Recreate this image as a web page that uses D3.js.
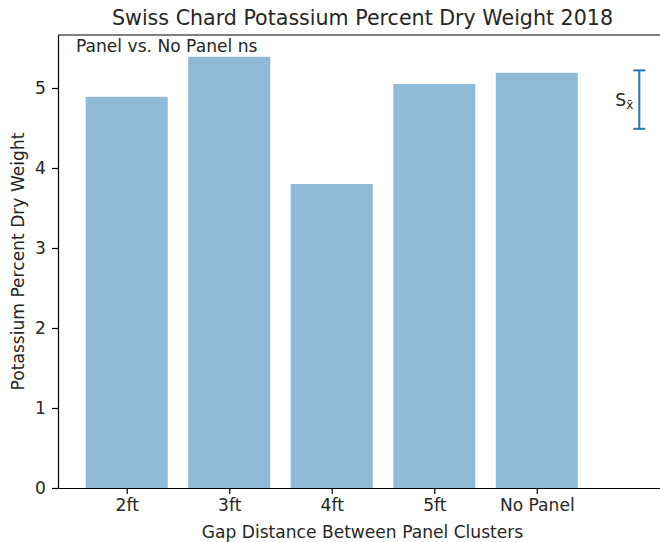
<!DOCTYPE html>
<html><head><meta charset="utf-8">
<script src="https://cdn.jsdelivr.net/npm/d3@7"></script>
<style>body{margin:0;background:#fff}svg{display:block}text{font-family:"DejaVu Sans",sans-serif;fill:#262626}</style>
</head><body><svg id="c" width="660" height="542"></svg>
<script>
const categories = ["2ft","3ft","4ft","5ft","No Panel"];
const values = [4.89, 5.39, 3.80, 5.05, 5.19];
const yTicks = [0,1,2,3,4,5];
const errCenter = [4.855];
const errHalf = [0.365];
const title = "Swiss Chard Potassium Percent Dry Weight 2018";
const note = "Panel vs. No Panel ns";

const FS = 17.1;
const svg = d3.select("#c");
const L = 58, R = 667, T = 35, B = 488;
const x = d3.scaleLinear().domain([-0.67, 5.27]).range([L, R]);
const y = d3.scaleLinear().domain([0, 5.6625]).range([B, T]);
const bw = x(0.8) - x(0);

svg.append("g").selectAll("rect").data(values).join("rect")
  .attr("x", (d,i)=>x(i-0.4)).attr("width", bw)
  .attr("y", d=>y(d)).attr("height", d=>B-y(d))
  .attr("fill", "#1f77b4").attr("fill-opacity", 0.5);

// error bar
const ex = x(5);
const eg = svg.append("g").attr("stroke","#1f77b4").attr("stroke-width",2);
eg.append("line").attr("x1",ex).attr("x2",ex).attr("y1",y(errCenter[0]+errHalf[0])).attr("y2",y(errCenter[0]-errHalf[0]));
[errCenter[0]+errHalf[0], errCenter[0]-errHalf[0]].forEach(v=>{
  eg.append("line").attr("x1",ex-6).attr("x2",ex+6).attr("y1",y(v)).attr("y2",y(v));
});
const sl = svg.append("text").attr("x", ex-6).attr("y", y(errCenter[0])+6).attr("text-anchor","end").attr("font-size",FS);
sl.append("tspan").text("S");
sl.append("tspan").attr("font-size",12).attr("dy",3).text("x̄");

// axes
const xa = svg.append("g").attr("transform",`translate(0,${B})`)
  .call(d3.axisBottom(x).tickValues(d3.range(categories.length)).tickFormat(i=>categories[i]).tickSizeInner(6).tickSizeOuter(0).tickPadding(5));
const ya = svg.append("g").attr("transform",`translate(${L},0)`)
  .call(d3.axisLeft(y).tickValues(yTicks).tickFormat(d3.format("d")).tickSizeInner(6).tickSizeOuter(0).tickPadding(6));
[xa,ya].forEach(a=>{a.attr("font-size",FS).attr("font-family","DejaVu Sans");
  a.selectAll("text").attr("fill","#262626");
  a.selectAll("line,path").attr("stroke","#000").attr("stroke-width",1.2);});
svg.append("line").attr("x1",L).attr("x2",R).attr("y1",T).attr("y2",T).attr("stroke","#000").attr("stroke-width",1.2);
svg.append("line").attr("x1",R).attr("x2",R).attr("y1",T).attr("y2",B).attr("stroke","#000").attr("stroke-width",1.2);

svg.append("text").attr("x",(L+R)/2).attr("y",25).attr("text-anchor","middle").attr("font-size",20.6).text(title);
svg.append("text").attr("x",76).attr("y",52).attr("font-size",FS).text(note);
svg.append("text").attr("x",(L+R)/2).attr("y",538).attr("text-anchor","middle").attr("font-size",FS).text("Gap Distance Between Panel Clusters");
svg.append("text").attr("transform",`translate(24,${(T+B)/2}) rotate(-90)`).attr("text-anchor","middle").attr("font-size",FS).text("Potassium Percent Dry Weight");
</script></body></html>
